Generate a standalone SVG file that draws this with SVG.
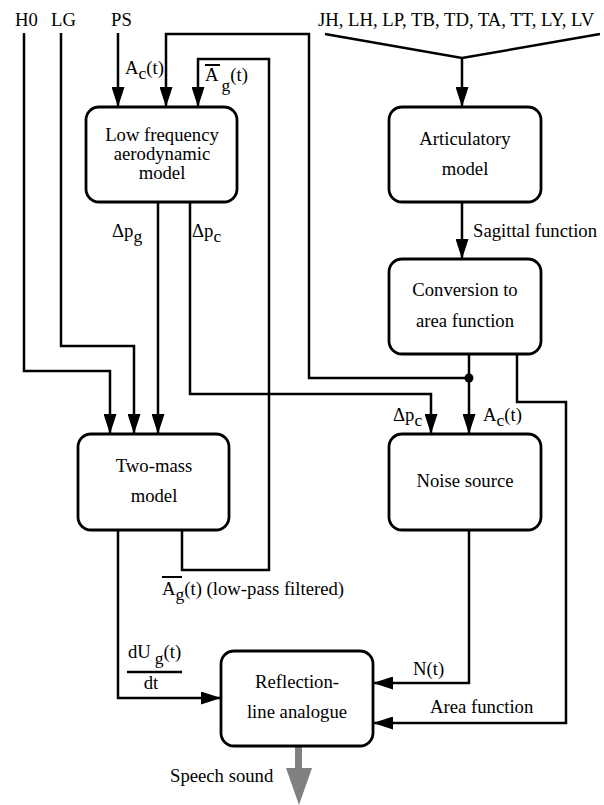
<svg xmlns="http://www.w3.org/2000/svg" width="604" height="805" viewBox="0 0 604 805">
<defs>
<marker id="ah" markerUnits="userSpaceOnUse" markerWidth="20" markerHeight="13" refX="20" refY="6.5" orient="auto">
<path d="M0,0 L20,6.5 L0,13 z" fill="#000"/>
</marker>
</defs>
<style>
.box{fill:#fff;stroke:#000;stroke-width:2.8}
.ln{fill:none;stroke:#000;stroke-width:2.5}
.arr{fill:none;stroke:#000;stroke-width:2.5;marker-end:url(#ah)}
.c{text-anchor:middle}
.sub{font-size:17.5px}
</style>
<rect width="604" height="805" fill="#fff"/>
<g id="connectors">
<path class="arr" d="M24,33 V371 H110 V434"/>
<path class="arr" d="M61,33 V346 H134 V434"/>
<path class="arr" d="M118,33 V107"/>
<path class="arr" d="M469,378 H309 V34 H166 V107"/>
<path class="arr" d="M182,530 V570 H269 V59 H198 V107"/>
<path class="arr" d="M158,202 V434"/>
<path class="arr" d="M190,202 V394 H431 V434"/>
<path class="ln" d="M325,34 L462,58 L600,34"/>
<path class="arr" d="M462,58 V107"/>
<path class="arr" d="M462,202 V259"/>
<path class="arr" d="M469,354 V434"/>
<circle cx="469" cy="378" r="4.5" fill="#000"/>
<path class="arr" d="M517,354 V402 H566 V723 H373"/>
<path class="arr" d="M469,530 V683 H373"/>
<path class="arr" d="M118,530 V698 H221"/>
<rect x="295" y="746" width="7" height="23" fill="#808080"/>
<polygon points="286,768 312,768 299,805" fill="#808080"/>
</g>
<g font-family="'Liberation Serif', 'DejaVu Serif', serif" font-size="18.7" fill="#000">
<g id="labels">
<text x="15" y="26">H0</text>
<text x="51" y="26">LG</text>
<text x="111" y="26">PS</text>
<text x="318" y="26">JH, LH, LP, TB, TD, TA, TT, LY, LV</text>
<text x="125" y="74">A<tspan class="sub" dy="5">c</tspan><tspan dy="-5">(t)</tspan></text>
<line x1="205" y1="65" x2="220" y2="65" stroke="#000" stroke-width="2"/>
<text x="205" y="81">A<tspan class="sub" dx="3" dy="10">g</tspan><tspan dy="-10">(t)</tspan></text>
<text x="112" y="237">Δp<tspan class="sub" dy="5">g</tspan></text>
<text x="192" y="237">Δp<tspan class="sub" dy="5">c</tspan></text>
<text x="473" y="237">Sagittal function</text>
<text x="393" y="421">Δp<tspan class="sub" dy="5">c</tspan></text>
<text x="483" y="421">A<tspan class="sub" dy="5">c</tspan><tspan dy="-5">(t)</tspan></text>
<line x1="162" y1="577" x2="182" y2="577" stroke="#000" stroke-width="2"/>
<text x="162" y="595">A<tspan class="sub" dy="5">g</tspan><tspan dy="-5">(t) (low-pass filtered)</tspan></text>
<text x="128" y="658">dU<tspan class="sub" dx="4" dy="6">g</tspan><tspan dy="-6">(t)</tspan></text>
<line x1="127" y1="672" x2="182" y2="672" stroke="#000" stroke-width="2.5"/>
<text x="151" y="689" class="c">dt</text>
<text x="413" y="675">N(t)</text>
<text x="430" y="713">Area function</text>
<text x="170" y="782">Speech sound</text>
</g>
<g id="lowfreq">
<rect class="box" x="86" y="107" width="151" height="95" rx="13"/>
<text class="c" x="162" y="141">Low frequency</text>
<text class="c" x="162" y="160">aerodynamic</text>
<text class="c" x="162" y="179">model</text>
</g>
<g id="articulatory">
<rect class="box" x="389" y="107" width="152" height="95" rx="13"/>
<text class="c" x="465" y="145">Articulatory</text>
<text class="c" x="465" y="175">model</text>
</g>
<g id="conversion">
<rect class="box" x="389" y="259" width="152" height="95" rx="13"/>
<text class="c" x="465" y="296">Conversion to</text>
<text class="c" x="465" y="327">area function</text>
</g>
<g id="twomass">
<rect class="box" x="78" y="434" width="151" height="96" rx="13"/>
<text class="c" x="154" y="472">Two-mass</text>
<text class="c" x="154" y="502">model</text>
</g>
<g id="noise">
<rect class="box" x="389" y="434" width="152" height="96" rx="13"/>
<text class="c" x="465" y="487">Noise source</text>
</g>
<g id="reflection">
<rect class="box" x="221" y="651" width="152" height="95" rx="13"/>
<text class="c" x="297" y="688">Reflection-</text>
<text class="c" x="297" y="718">line analogue</text>
</g>
</g>
</svg>
